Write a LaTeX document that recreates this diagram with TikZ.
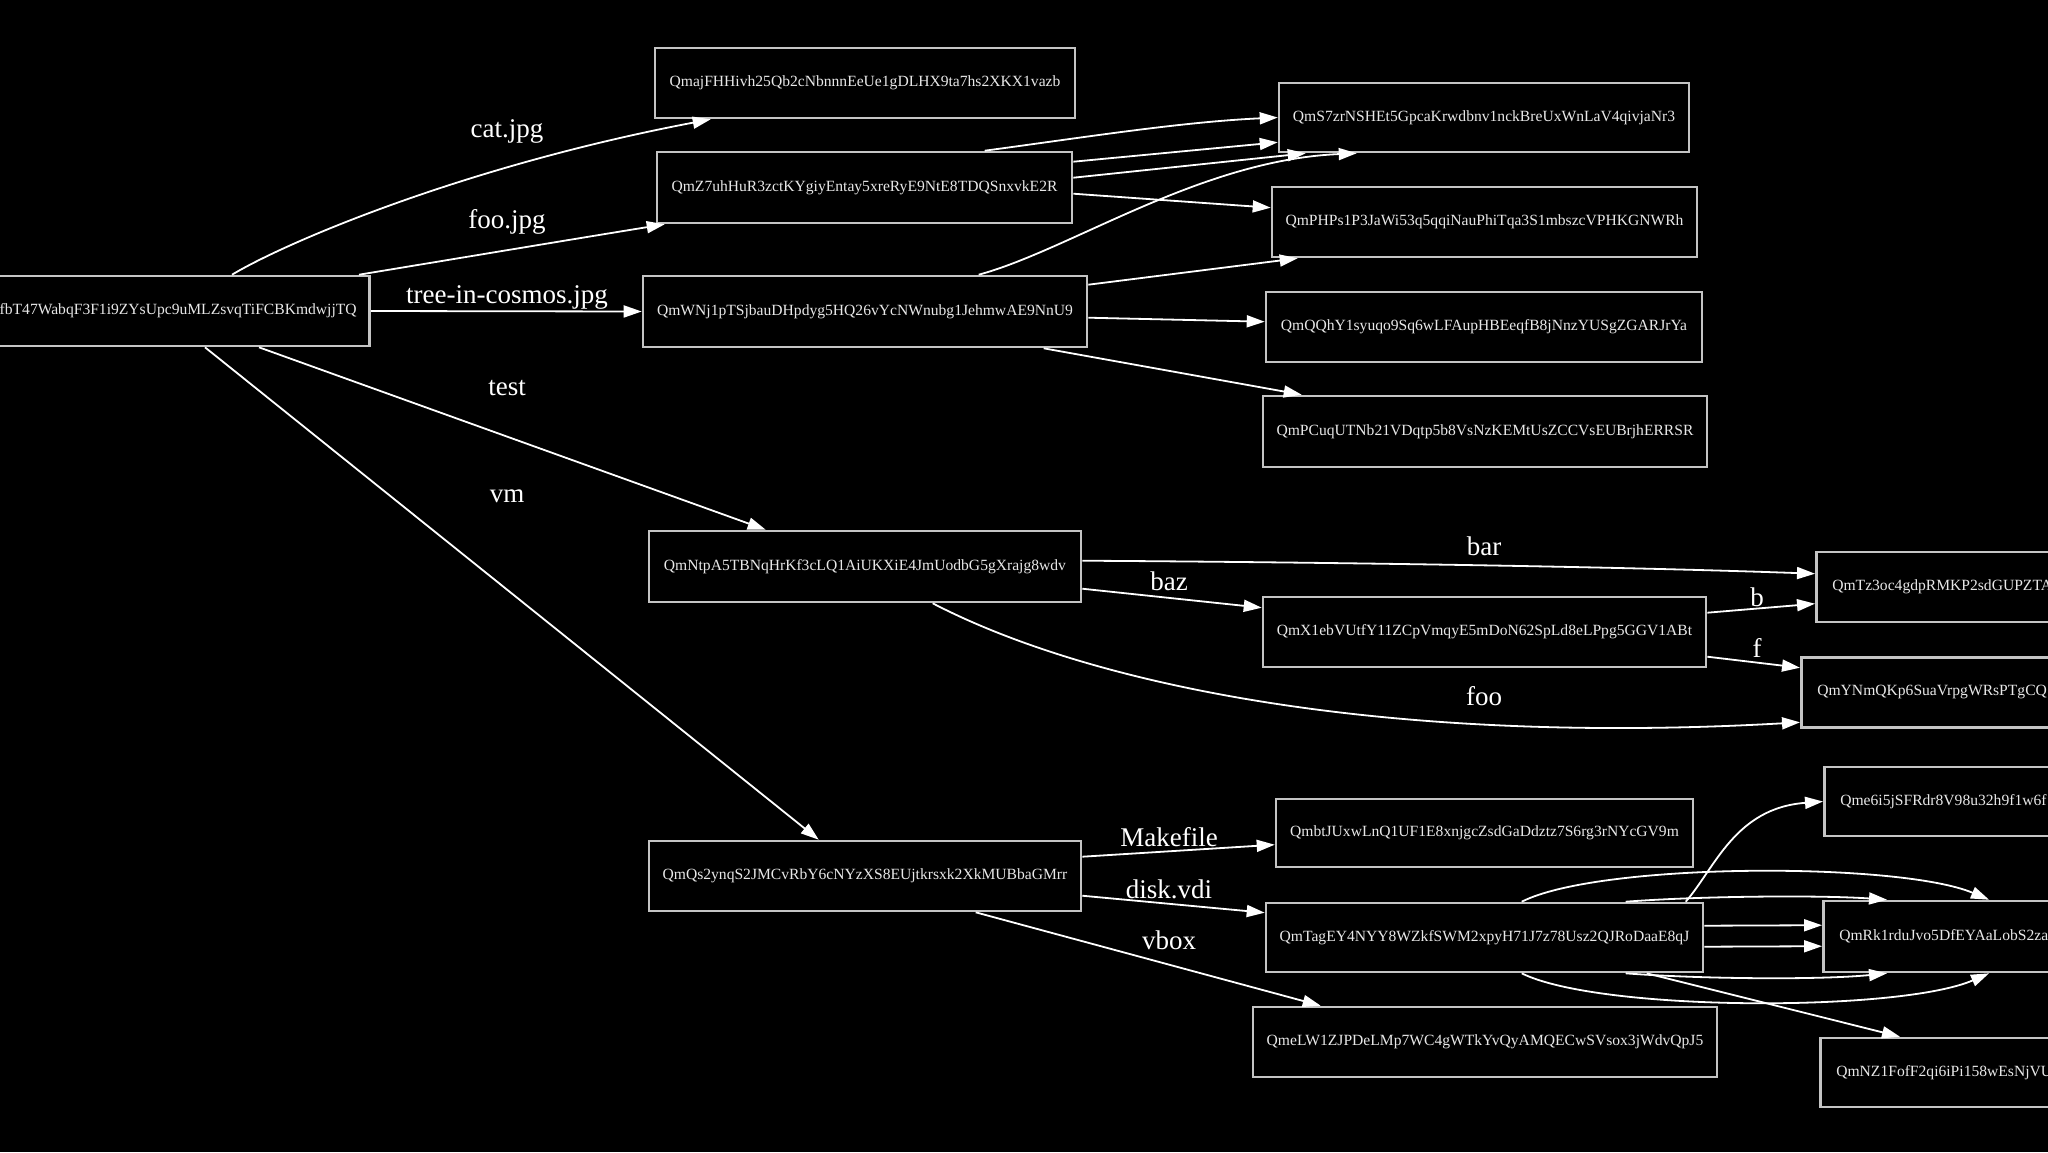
\documentclass[tikz,border=0pt]{standalone}
\usepackage{fontspec}
\setmainfont{Liberation Serif}
\usetikzlibrary{arrows.meta,calc}
\definecolor{boxc}{HTML}{C4C4C4}
\definecolor{txtc}{HTML}{E8E8E8}
\begin{document}
\begin{tikzpicture}[x=0.5pt,y=-0.5pt,
  hash/.style={draw=boxc, line width=1.3pt, text=txtc, font=\fontsize{7.8}{9}\selectfont, inner sep=0pt, minimum height=35pt},
  cut/.style={hash, anchor=west, inner xsep=8pt, text width=230pt, align=left},
  edge/.style={draw=white, line width=0.9pt, -{Triangle[length=9pt,width=6pt]}},
  lab/.style={text=white, font=\fontsize{13.5}{15}\selectfont, inner sep=0pt}]
\fill[black] (0,0) rectangle (2048,1152);
\useasboundingbox (0,0) rectangle (2048,1152);
\clip (0,0) rectangle (2048,1152);

% nodes
\node[hash, anchor=east, inner xsep=6.5pt] (root) at (371,311) {fbT47WabqF3F1i9ZYsUpc9uMLZsvqTiFCBKmdwjjTQ};
\node[hash, minimum width=210pt] (A) at (865,83) {QmajFHHivh25Qb2cNbnnnEeUe1gDLHX9ta7hs2XKX1vazb};
\node[hash, minimum width=207.5pt, minimum height=35.5pt] (B) at (864.5,187.5) {QmZ7uhHuR3zctKYgiyEntay5xreRyE9NtE8TDQSnxvkE2R};
\node[hash, minimum width=222pt, minimum height=35.5pt] (C) at (865,311.5) {QmWNj1pTSjbauDHpdyg5HQ26vYcNWnubg1JehmwAE9NnU9};
\node[hash, minimum width=205pt, minimum height=34.5pt] (D) at (1484,117.5) {QmS7zrNSHEt5GpcaKrwdbnv1nckBreUxWnLaV4qivjaNr3};
\node[hash, minimum width=212.5pt] (E) at (1484.5,222) {QmPHPs1P3JaWi53q5qqiNauPhiTqa3S1mbszcVPHKGNWRh};
\node[hash, minimum width=218pt] (F) at (1484,327) {QmQQhY1syuqo9Sq6wLFAupHBEeqfB8jNnzYUSgZGARJrYa};
\node[hash, minimum width=222pt, minimum height=35.5pt] (G) at (1485,431.5) {QmPCuqUTNb21VDqtp5b8VsNzKEMtUsZCCVsEUBrjhERRSR};
\node[hash, minimum width=216pt, minimum height=35.5pt] (H) at (865,566.5) {QmNtpA5TBNqHrKf3cLQ1AiUKXiE4JmUodbG5gXrajg8wdv};
\node[hash, minimum width=221.5pt] (I) at (1484.5,632) {QmX1ebVUtfY11ZCpVmqyE5mDoN62SpLd8eLPpg5GGV1ABt};
\node[hash, minimum width=216pt] (J) at (865,876) {QmQs2ynqS2JMCvRbY6cNYzXS8EUjtkrsxk2XkMUBbaGMrr};
\node[hash, minimum width=208.5pt, minimum height=34pt] (K) at (1484.5,833) {QmbtJUxwLnQ1UF1E8xnjgcZsdGaDdztz7S6rg3rNYcGV9m};
\node[hash, minimum width=218.5pt, minimum height=34.5pt] (L) at (1484.5,937.5) {QmTagEY4NYY8WZkfSWM2xpyH71J7z78Usz2QJRoDaaE8qJ};
\node[hash, minimum width=232pt] (M) at (1485,1042) {QmeLW1ZJPDeLMp7WC4gWTkYvQyAMQECwSVsox3jWdvQpJ5};
\node[cut] (N) at (1815,587) {QmTz3oc4gdpRMKP2sdGUPZTA};
\node[cut] (O) at (1800,692.5) {QmYNmQKp6SuaVrpgWRsPTgCQ};
\node[cut, minimum height=34.5pt] (P) at (1823,801.5) {Qme6i5jSFRdr8V98u32h9f1w6f};
\node[cut, minimum height=35.5pt] (Q) at (1822,936.5) {QmRk1rduJvo5DfEYAaLobS2za};
\node[cut, minimum height=34.5pt] (R) at (1819,1072.5) {QmNZ1FofF2qi6iPi158wEsNjVU};

% edges from root
\draw[edge] ($(root.north east)+(-139,0)$) .. controls (290,240) and (470,165) .. ($(A.south west)+(57,0)$);
\draw[edge] ($(root.north east)+(-12,0)$) .. controls (430,263) and (580,238) .. ($(B.south west)+(9,0)$);
\draw[edge] (root.east) -- (C.west);
\draw[edge] ($(root.south east)+(-112,0)$) -- ($(H.north west)+(118,0)$);
\draw[edge] ($(root.south east)+(-166,0)$) -- ($(J.north west)+(171,0)$);

% B and C children
\draw[edge] ($(B.north west)+(329,0)$) .. controls (1080,138) and (1180,122) .. (D.west);
\draw[edge] ($(B.north east)+(0,11)$) -- ($(D.south west)+(0,-11)$);
\draw[edge] ($(B.north east)+(0,27)$) -- ($(D.south west)+(28,0)$);
\draw[edge] ($(C.north west)+(337,0)$) .. controls (1070,250) and (1200,160) .. ($(D.south west)+(79,0)$);
\draw[edge] ($(B.north east)+(0,43)$) -- ($(E.north west)+(0,22)$);
\draw[edge] ($(C.north east)+(0,10)$) -- ($(E.south west)+(27,0)$);
\draw[edge] ($(C.north east)+(0,43)$) -- ($(F.north west)+(0,31)$);
\draw[edge] ($(C.south west)+(402,0)$) -- ($(G.north west)+(40,0)$);

% H children
\draw[edge] ($(H.north east)+(0,31)$) .. controls (1300,562) and (1600,566) .. ($(N.north west)+(0,23)$);
\draw[edge] ($(H.north east)+(0,59)$) -- ($(I.north west)+(0,12)$);
\draw[edge] ($(H.south west)+(285,0)$) .. controls (1100,690) and (1400,745) .. ($(O.south west)+(0,-6.5)$);
\draw[edge] ($(I.north east)+(0,17)$) -- ($(N.north west)+(0,53)$);
\draw[edge] ($(I.north east)+(0,61)$) -- ($(O.north west)+(0,11.5)$);

% J children
\draw[edge] ($(J.north east)+(0,17)$) -- ($(K.north west)+(0,47)$);
\draw[edge] ($(J.north east)+(0,56)$) -- ($(L.north west)+(0,11)$);
\draw[edge] ($(J.south west)+(328,0)$) -- ($(M.north west)+(69,0)$);

% L children
\draw[edge] ($(L.north west)+(421,0)$) .. controls (1715,868) and (1735,808) .. (P.west);
\draw[edge] ($(L.north west)+(257,0)$) .. controls (1600,862) and (1900,862) .. ($(Q.north west)+(167,0)$);
\draw[edge] ($(L.north west)+(361,0)$) .. controls (1700,896) and (1820,895) .. ($(Q.north west)+(65,0)$);
\draw[edge] ($(L.north east)+(0,24)$) -- ($(Q.north west)+(0,25.5)$);
\draw[edge] ($(L.north east)+(0,45)$) -- ($(Q.north west)+(0,46.5)$);
\draw[edge] ($(L.south west)+(361,0)$) .. controls (1700,979) and (1820,980) .. ($(Q.south west)+(65,0)$);
\draw[edge] ($(L.south west)+(257,0)$) .. controls (1600,1012) and (1900,1012) .. ($(Q.south west)+(167,0)$);
\draw[edge] ($(L.south west)+(382,0)$) -- ($(R.north west)+(81,0)$);

% labels
\node[lab] (l1) at (507,131) {cat.jpg};
\node[lab] (l2) at (507,222) {foo.jpg};
\node[lab] (l3) at (507,297) {tree-in-cosmos.jpg};
\node[lab] (l4) at (507,388) {test};
\node[lab] (l5) at (507,496) {vm};
\node[lab] (l6) at (1484,546) {bar};
\node[lab] (l7) at (1169,581) {baz};
\node[lab] (l8) at (1484,696) {foo};
\node[lab] (l9) at (1757,597) {b};
\node[lab] (l10) at (1757,648) {f};
\node[lab] (l11) at (1169,837) {Makefile};
\node[lab] (l12) at (1169,889) {disk.vdi};
\node[lab] (l13) at (1169,940) {vbox};
\end{tikzpicture}
\end{document}
